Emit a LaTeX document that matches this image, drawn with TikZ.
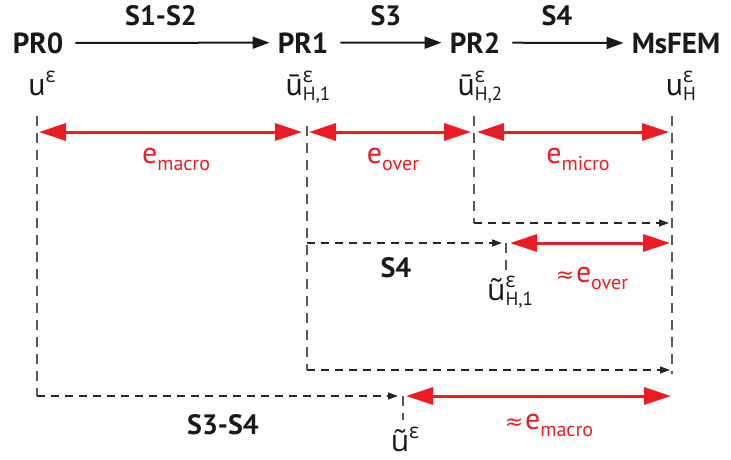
\documentclass[tikz,border=0pt]{standalone}
\usepackage{fontspec}
\setmainfont{PT Sans}
\newfontfamily\gkfont{Open Sans}
\newfontfamily\djfont{DejaVu Sans}
\usetikzlibrary{arrows.meta}
\definecolor{myred}{RGB}{237,28,36}
\newcommand\Eps{{\gkfont\fontsize{21}{21}\selectfont ε}}
\newcommand\SupSub[1]{\makebox[0pt][l]{\raisebox{13pt}{\Eps}}\raisebox{-5pt}{\fontsize{19}{19}\selectfont #1}}
\newcommand\Elbl[1]{{\fontsize{30}{30}\selectfont e}\raisebox{-7pt}{\fontsize{20}{20}\selectfont #1}}
\newcommand\Approx{{\djfont\fontsize{22}{22}\selectfont ≈}\,}
\newcommand\TildeU{{\gkfont\fontsize{30}{30}\selectfont ũ}}
\begin{document}
\begin{tikzpicture}[x=1pt,y=-1pt,
  boldlbl/.style={anchor=base,inner sep=0pt,font=\fontsize{29}{29}\selectfont\bfseries,text=black!90},
  steplbl/.style={anchor=base,inner sep=0pt,font=\fontsize{28}{28}\selectfont\bfseries,text=black!90},
  ulbl/.style={anchor=base,inner sep=0pt,font=\fontsize{32}{32}\selectfont,text=black!90},
  elbl/.style={anchor=base,inner sep=0pt,text=myred},
  toparrow/.style={draw=black!90,line width=2pt,-{Triangle[length=17pt,width=12pt]},shorten <=12pt,shorten >=8pt},
  dline/.style={draw=black!85,line width=1.4pt,dash pattern=on 8pt off 6pt},
  darrow/.style={dline,-{Triangle[length=10pt,width=7pt]}},
  vline/.style={draw=black!65,line width=1.4pt,dash pattern=on 10pt off 7pt},
  redarrow/.style={draw=myred,line width=3pt,{Triangle[length=27pt,width=17pt]}-{Triangle[length=27pt,width=17pt]}}]
\useasboundingbox (0,0) rectangle (731,459);

% top row
\node[boldlbl] (pr0) at (38,53) {PR0};
\node[boldlbl] (pr1) at (303,53) {PR1};
\node[boldlbl] (pr2) at (475,53) {PR2};
\node[boldlbl] (ms) at (676,53) {MsFEM};
\node[steplbl] (s12) at (161,25) {S1-S2};
\node[steplbl] (s3) at (386,25) {S3};
\node[steplbl] (s4) at (557,25) {S4};
\draw[toparrow] (pr0) -- (pr1);
\draw[toparrow] (pr1) -- (pr2);
\draw[toparrow] (pr2) -- (ms);

% solution labels
\node[ulbl] (u0) at (42,95) {u\raisebox{13pt}{\Eps}};
\node[ulbl] (u1) at (308,95) {ū\SupSub{H,1}};
\node[ulbl] (u2) at (480,95) {ū\SupSub{H,2}};
\node[ulbl] (uH) at (681,95) {u\SupSub{H}};

% coordinates
\coordinate (v0t) at (37,116);
\coordinate (v0b) at (37,396);
\coordinate (v1t) at (307,126);
\coordinate (v1m) at (307,243);
\coordinate (v1b) at (307,370);
\coordinate (v2t) at (474,116);
\coordinate (v2b) at (474,223);
\coordinate (v3t) at (672,116);
\coordinate (v3b) at (672,374);
\coordinate (h2e) at (669,223);
\coordinate (h1e) at (502,243);
\coordinate (h1be) at (670,370);
\coordinate (h0e) at (398,396);
\coordinate (t1t) at (506,243);
\coordinate (t1b) at (506,272);
\coordinate (t0t) at (403,396);
\coordinate (t0b) at (403,420);

% vertical dashed lines
\draw[vline] (v0t) -- (v0b);
\draw[vline] (v1t) -- (v1b);
\draw[vline] (v2t) -- (v2b);
\draw[vline] (v3t) -- (v3b);
\draw[vline] (t1t) -- (t1b);
\draw[vline] (t0t) -- (t0b);

% horizontal dashed arrows
\draw[darrow] (v2b) -- (h2e);
\draw[darrow] (v1m) -- (h1e);
\draw[darrow] (v1b) -- (h1be);
\draw[darrow] (v0b) -- (h0e);

% red error arrows
\coordinate (r1a) at (39,132);  \coordinate (r1b) at (302,132);
\coordinate (r2a) at (309,132); \coordinate (r2b) at (471,132);
\coordinate (r3a) at (477,132); \coordinate (r3b) at (669,132);
\coordinate (r4a) at (510,243); \coordinate (r4b) at (670,243);
\coordinate (r5a) at (406,396); \coordinate (r5b) at (671,396);
\draw[redarrow] (r1a) -- (r1b);
\draw[redarrow] (r2a) -- (r2b);
\draw[redarrow] (r3a) -- (r3b);
\draw[redarrow] (r4a) -- (r4b);
\draw[redarrow] (r5a) -- (r5b);

\node[elbl] (emacro) at (176,163) {\Elbl{macro}};
\node[elbl] (eover) at (393,163) {\Elbl{over}};
\node[elbl] (emicro) at (578,163) {\Elbl{micro}};
\node[elbl] (aeover) at (592,282) {\Approx\Elbl{over}};
\node[elbl] (aemacro) at (549,429) {\Approx\Elbl{macro}};

% lower labels
\node[steplbl] (s4b) at (396,277) {S4};
\node[steplbl] (s34) at (223,434) {S3-S4};
\node[ulbl] (ut1) at (510,300) {\TildeU\SupSub{H,1}};
\node[ulbl] (ut0) at (405,451) {\TildeU\raisebox{13pt}{\Eps}};
\end{tikzpicture}
\end{document}
